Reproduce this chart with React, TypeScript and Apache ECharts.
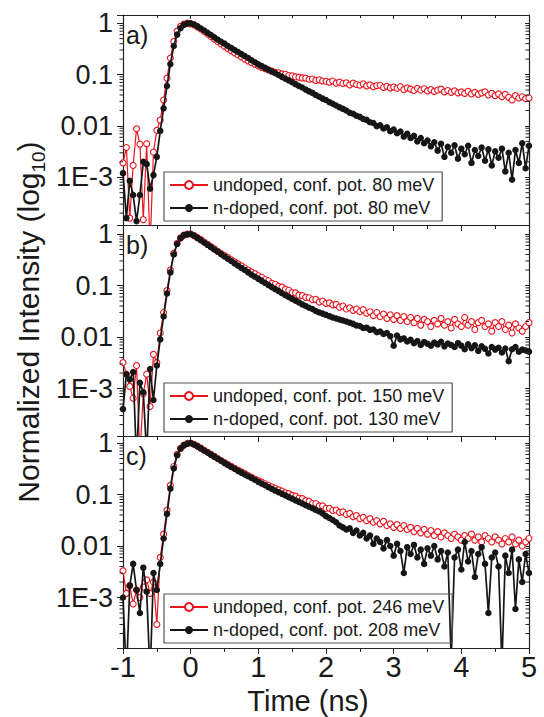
import React, { useEffect, useRef } from "react";
import * as echarts from "echarts";

// Time base (ns)
const timeNs = [
  -1, -0.95, -0.9, -0.85, -0.8, -0.75, -0.7, -0.65, -0.6, -0.55,
  -0.5, -0.45, -0.4, -0.35, -0.3, -0.25, -0.2, -0.15, -0.1, -0.05,
  0, 0.05, 0.1, 0.15, 0.2, 0.25, 0.3, 0.35, 0.4, 0.45,
  0.5, 0.55, 0.6, 0.65, 0.7, 0.75, 0.8, 0.85, 0.9, 0.95,
  1, 1.05, 1.1, 1.15, 1.2, 1.25, 1.3, 1.35, 1.4, 1.45,
  1.5, 1.55, 1.6, 1.65, 1.7, 1.75, 1.8, 1.85, 1.9, 1.95,
  2, 2.05, 2.1, 2.15, 2.2, 2.25, 2.3, 2.35, 2.4, 2.45,
  2.5, 2.55, 2.6, 2.65, 2.7, 2.75, 2.8, 2.85, 2.9, 2.95,
  3, 3.05, 3.1, 3.15, 3.2, 3.25, 3.3, 3.35, 3.4, 3.45,
  3.5, 3.55, 3.6, 3.65, 3.7, 3.75, 3.8, 3.85, 3.9, 3.95,
  4, 4.05, 4.1, 4.15, 4.2, 4.25, 4.3, 4.35, 4.4, 4.45,
  4.5, 4.55, 4.6, 4.65, 4.7, 4.75, 4.8, 4.85, 4.9, 4.95,
  5,
];

// Panel a)
const undopedA = [
  0.0019, 0.0038, 0.00016, 0.0017, 0.0088, 0.0044, 0.00015, 0.0045, 0.00004, 0.0031,
  0.0082, 0.013, 0.032, 0.085, 0.21, 0.44, 0.70, 0.87, 0.96, 1.0,
  0.97, 0.93, 0.85, 0.77, 0.69, 0.615, 0.55, 0.49, 0.44, 0.395,
  0.355, 0.32, 0.29, 0.265, 0.24, 0.22, 0.20, 0.185, 0.17, 0.158,
  0.147, 0.138, 0.130, 0.123, 0.117, 0.110, 0.108, 0.103, 0.101, 0.096,
  0.094, 0.090, 0.089, 0.086, 0.085, 0.081, 0.082, 0.077, 0.079, 0.075,
  0.074, 0.071, 0.075, 0.068, 0.071, 0.067, 0.069, 0.063, 0.068, 0.064,
  0.062, 0.066, 0.060, 0.063, 0.058, 0.061, 0.062, 0.056, 0.059, 0.055,
  0.057, 0.054, 0.058, 0.051, 0.055, 0.052, 0.049, 0.054, 0.050, 0.053,
  0.048, 0.051, 0.047, 0.050, 0.052, 0.046, 0.049, 0.045, 0.048, 0.044,
  0.046, 0.043, 0.047, 0.042, 0.045, 0.041, 0.044, 0.046, 0.040, 0.043,
  0.039, 0.042, 0.037, 0.041, 0.036, 0.032, 0.039, 0.035, 0.037, 0.034,
  0.035,
];
const ndopedA = [
  0.0012, 0.00016, 0.00085, 0.00045, 0.00014, 0.00045, 0.0020, 0.0018, 0.0006, 0.0011,
  0.0025, 0.008, 0.022, 0.06, 0.16, 0.36, 0.60, 0.80, 0.93, 0.99,
  1.0, 0.945, 0.87, 0.79, 0.72, 0.65, 0.59, 0.53, 0.48, 0.435,
  0.40, 0.36, 0.33, 0.30, 0.275, 0.25, 0.23, 0.21, 0.19, 0.174,
  0.158, 0.146, 0.135, 0.124, 0.115, 0.106, 0.098, 0.090, 0.083, 0.077,
  0.071, 0.065, 0.060, 0.056, 0.051, 0.047, 0.044, 0.040, 0.037, 0.034,
  0.032, 0.029, 0.027, 0.025, 0.023, 0.0215, 0.020, 0.018, 0.0172, 0.0158,
  0.015, 0.0136, 0.0131, 0.0118, 0.0114, 0.0099, 0.0103, 0.0089, 0.0094, 0.0079,
  0.0085, 0.0072, 0.0078, 0.0062, 0.0070, 0.0058, 0.0064, 0.0050, 0.0058, 0.0046,
  0.0052, 0.0040, 0.0048, 0.0033, 0.0045, 0.0025, 0.0039, 0.0030, 0.0042, 0.0023,
  0.0036, 0.0028, 0.0041, 0.0019, 0.0034, 0.0026, 0.0038, 0.0021, 0.0035, 0.0017,
  0.0032, 0.0024, 0.0036, 0.0013, 0.0030, 0.0009, 0.0034, 0.0019, 0.0046, 0.0015,
  0.0041,
];

// Panel b)
const undopedB = [
  0.0032, 0.0019, 0.0011, 0.00065, 0.0028, 0.00005, 0.0008, 0.0019, 0.00045, 0.0046,
  0.0032, 0.012, 0.03, 0.08, 0.20, 0.42, 0.66, 0.84, 0.95, 0.995,
  1.0, 0.933, 0.851, 0.776, 0.700, 0.631, 0.569, 0.513, 0.462, 0.417,
  0.380, 0.347, 0.316, 0.288, 0.263, 0.240, 0.219, 0.200, 0.184, 0.170,
  0.155, 0.145, 0.131, 0.124, 0.110, 0.106, 0.096, 0.093, 0.084, 0.081,
  0.073, 0.072, 0.065, 0.064, 0.059, 0.058, 0.053, 0.054, 0.048, 0.050,
  0.045, 0.046, 0.042, 0.043, 0.038, 0.040, 0.035, 0.037, 0.033, 0.035,
  0.031, 0.034, 0.029, 0.031, 0.026, 0.030, 0.025, 0.028, 0.023, 0.027,
  0.022, 0.026, 0.021, 0.025, 0.020, 0.024, 0.019, 0.023, 0.017, 0.022,
  0.020, 0.016, 0.021, 0.018, 0.023, 0.017, 0.020, 0.015, 0.022, 0.018,
  0.016, 0.024, 0.017, 0.020, 0.014, 0.019, 0.021, 0.016, 0.018, 0.013,
  0.019, 0.016, 0.020, 0.014, 0.017, 0.012, 0.018, 0.015, 0.013, 0.016,
  0.019,
];
const ndopedB = [
  0.0004, 0.0019, 0.0015, 0.0021, 0.00004, 0.0013, 0.00085, 0.00005, 0.0024, 0.0006,
  0.0028, 0.009, 0.025, 0.07, 0.18, 0.40, 0.64, 0.83, 0.95, 0.99,
  1.0, 0.933, 0.841, 0.759, 0.684, 0.617, 0.556, 0.501, 0.452, 0.407,
  0.367, 0.331, 0.299, 0.269, 0.243, 0.219, 0.200, 0.180, 0.162, 0.148,
  0.135, 0.123, 0.112, 0.102, 0.093, 0.085, 0.078, 0.071, 0.065, 0.060,
  0.055, 0.051, 0.047, 0.043, 0.040, 0.037, 0.035, 0.032, 0.030, 0.0285,
  0.027, 0.0254, 0.024, 0.0229, 0.0219, 0.0209, 0.020, 0.019, 0.018, 0.0168,
  0.0164, 0.0150, 0.0152, 0.0138, 0.0140, 0.0124, 0.0128, 0.0115, 0.0120, 0.0104,
  0.0068, 0.0107, 0.0090, 0.0094, 0.0082, 0.0088, 0.0076, 0.0084, 0.0070, 0.0080,
  0.0074, 0.0068, 0.0078, 0.0072, 0.0081, 0.0066, 0.0075, 0.0070, 0.0064, 0.0076,
  0.0068, 0.0058, 0.0072, 0.0061, 0.0069, 0.0054, 0.0066, 0.0059, 0.0048, 0.0064,
  0.0057, 0.0062, 0.0050, 0.0060, 0.0034, 0.0058, 0.0064, 0.0052, 0.0057, 0.0055,
  0.0052,
];

// Panel c)
const undopedC = [
  0.0033, 0.0012, 0.0017, 0.00075, 0.0014, 0.0010, 0.0016, 0.0022, 0.0012, 0.0020,
  0.0003, 0.006, 0.017, 0.05, 0.15, 0.35, 0.60, 0.79, 0.91, 0.98,
  1.0, 0.944, 0.871, 0.794, 0.724, 0.661, 0.603, 0.550, 0.501, 0.457,
  0.417, 0.380, 0.351, 0.324, 0.299, 0.275, 0.254, 0.234, 0.216, 0.200,
  0.186, 0.174, 0.162, 0.151, 0.141, 0.132, 0.123, 0.117, 0.108, 0.104,
  0.096, 0.093, 0.085, 0.083, 0.076, 0.074, 0.067, 0.067, 0.060, 0.060,
  0.054, 0.054, 0.049, 0.050, 0.045, 0.046, 0.041, 0.043, 0.037, 0.039,
  0.034, 0.036, 0.031, 0.034, 0.029, 0.031, 0.027, 0.030, 0.025, 0.027,
  0.023, 0.026, 0.022, 0.025, 0.021, 0.023, 0.019, 0.022, 0.018, 0.021,
  0.017, 0.020, 0.016, 0.019, 0.015, 0.018, 0.016, 0.014, 0.017, 0.015,
  0.013, 0.016, 0.014, 0.017, 0.013, 0.015, 0.012, 0.016, 0.014, 0.012,
  0.015, 0.013, 0.011, 0.014, 0.012, 0.015, 0.011, 0.013, 0.010, 0.012,
  0.014,
];
const ndopedC = [
  0.0010, 0.00003, 0.0017, 0.0045, 0.0014, 0.0005, 0.0038, 0.0013, 0.00003, 0.0030,
  0.0014, 0.0045, 0.014, 0.042, 0.13, 0.32, 0.58, 0.78, 0.90, 0.97,
  1.0, 0.933, 0.861, 0.785, 0.716, 0.653, 0.596, 0.543, 0.495, 0.452,
  0.412, 0.376, 0.343, 0.316, 0.288, 0.266, 0.245, 0.226, 0.209, 0.193,
  0.176, 0.163, 0.151, 0.139, 0.129, 0.119, 0.111, 0.103, 0.096, 0.089,
  0.083, 0.077, 0.072, 0.067, 0.062, 0.058, 0.054, 0.050, 0.047, 0.043,
  0.038, 0.035, 0.032, 0.029, 0.025, 0.023, 0.021, 0.022, 0.018, 0.020,
  0.016, 0.018, 0.014, 0.016, 0.011, 0.014, 0.012, 0.009, 0.013, 0.010,
  0.0065, 0.0110, 0.0080, 0.0030, 0.0095, 0.0070, 0.0105, 0.0060, 0.0085, 0.0045,
  0.0090, 0.0065, 0.0100, 0.0055, 0.0080, 0.0040, 0.0075, 0.00006, 0.0060, 0.0085,
  0.0035, 0.0120, 0.0050, 0.0080, 0.0025, 0.0070, 0.0095, 0.0045, 0.0005, 0.0060,
  0.0075, 0.0040, 0.00005, 0.0065, 0.0030, 0.0085, 0.0006, 0.0055, 0.0020, 0.0070,
  0.0030,
];

const seriesNames = [
  ["undoped, conf. pot. 80 meV", "n-doped, conf. pot. 80 meV"],
  ["undoped, conf. pot. 150 meV", "n-doped, conf. pot. 130 meV"],
  ["undoped, conf. pot. 246 meV", "n-doped, conf. pot. 208 meV"],
];
const panelLetters = ["a)", "b)", "c)"];
const xTickValues = [-1, 0, 1, 2, 3, 4, 5];
const yDecadeLabels: Record<string, string> = { "0": "1", "-1": "0.1", "-2": "0.01", "-3": "1E-3" };
const minorMultipliers = [2, 3, 4, 5, 6, 7, 8, 9];
const minorDecades = [1e-4, 1e-3, 1e-2, 1e-1];

const FONT = "'Liberation Sans', Arial, Helvetica, sans-serif";
const RED = "#e8161e";
const BLK = "#161616";
const AX = "#222";

const panels = [
  { red: undopedA, black: ndopedA, top: 15, height: 210, yMin: 1.175e-4, yMax: 1.445, legendTop: 172 },
  { red: undopedB, black: ndopedB, top: 225, height: 211, yMin: 1.2e-4, yMax: 1.496, legendTop: 383 },
  { red: undopedC, black: ndopedC, top: 436, height: 212, yMin: 1.047e-4, yMax: 1.368, legendTop: 594 },
];

const GRID_LEFT = 123;
const GRID_RIGHT = 15;

function yLabel(v: number): string {
  const e = Math.log10(v);
  const r = Math.round(e);
  if (Math.abs(e - r) > 1e-6) return "";
  return yDecadeLabels[String(r)] ?? "";
}

export default function App() {
  const ref = useRef<HTMLDivElement>(null);

  useEffect(() => {
    if (!ref.current) return;
    const chart = echarts.init(ref.current, undefined, { renderer: "svg" });

    const minorData: number[][] = [];
    minorDecades.forEach((d) => {
      minorMultipliers.forEach((m) => {
        minorData.push([-1, m * d]);
        minorData.push([5, m * d]);
      });
    });

    const grids = panels.map((p) => ({
      left: GRID_LEFT,
      right: GRID_RIGHT,
      top: p.top,
      height: p.height,
      show: false,
    }));

    const lineStyleAx = { color: AX, width: 1.2 };

    const xAxes: any[] = [];
    panels.forEach((p, i) => {
      xAxes.push({
        gridIndex: i,
        type: "value",
        min: -1,
        max: 5,
        interval: 1,
        position: "bottom",
        axisLine: { show: true, onZero: false, lineStyle: lineStyleAx },
        axisTick: { show: true, inside: false, length: 6, lineStyle: { color: AX, width: 1 } },
        minorTick: { show: true, splitNumber: 2, length: 4, lineStyle: { color: AX, width: 1 } },
        splitLine: { show: false },
        minorSplitLine: { show: false },
        axisLabel: {
          show: i === 2,
          fontSize: 29,
          fontFamily: FONT,
          color: "#1a1a1a",
          margin: 4,
          formatter: (v: number) => (xTickValues.includes(v) ? String(v) : ""),
        },
      });
    });
    panels.forEach((p, i) => {
      xAxes.push({
        gridIndex: i,
        type: "value",
        min: -1,
        max: 5,
        interval: 1,
        position: "top",
        axisLine: { show: true, onZero: false, lineStyle: lineStyleAx },
        axisTick: { show: true, inside: true, length: 4, lineStyle: { color: AX, width: 1 } },
        minorTick: { show: true, splitNumber: 2, length: 3, lineStyle: { color: AX, width: 1 } },
        splitLine: { show: false },
        axisLabel: { show: false },
      });
    });

    const yAxes: any[] = [];
    panels.forEach((p, i) => {
      yAxes.push({
        gridIndex: i,
        type: "log",
        logBase: 10,
        min: p.yMin,
        max: p.yMax,
        position: "left",
        axisLine: { show: true, onZero: false, lineStyle: lineStyleAx },
        axisTick: { show: true, inside: false, length: 6, lineStyle: { color: AX, width: 1 } },
        splitLine: { show: false },
        axisLabel: {
          fontSize: 27,
          fontFamily: FONT,
          color: "#1a1a1a",
          margin: 10,
          formatter: yLabel,
          showMinLabel: true,
          showMaxLabel: true,
        },
      });
    });
    panels.forEach((p, i) => {
      yAxes.push({
        gridIndex: i,
        type: "log",
        logBase: 10,
        min: p.yMin,
        max: p.yMax,
        position: "right",
        axisLine: { show: true, onZero: false, lineStyle: lineStyleAx },
        axisTick: { show: true, inside: true, length: 4, lineStyle: { color: AX, width: 1 } },
        splitLine: { show: false },
        axisLabel: { show: false },
      });
    });

    const series: any[] = [];
    panels.forEach((p, i) => {
      series.push({
        type: "line",
        name: seriesNames[i][0],
        xAxisIndex: i,
        yAxisIndex: i,
        data: timeNs.map((t, k) => [t, p.red[k]]),
        symbol: "circle",
        symbolSize: 6,
        showSymbol: true,
        clip: true,
        lineStyle: { color: RED, width: 1.2 },
        itemStyle: { color: "#ffffff", borderColor: RED, borderWidth: 1.1 },
        z: 2,
      });
      series.push({
        type: "line",
        name: seriesNames[i][1],
        xAxisIndex: i,
        yAxisIndex: i,
        data: timeNs.map((t, k) => [t, p.black[k]]),
        symbol: "circle",
        symbolSize: 6.5,
        showSymbol: true,
        clip: true,
        lineStyle: { color: BLK, width: 1.7 },
        itemStyle: { color: BLK },
        z: 3,
      });
      series.push({
        type: "custom",
        xAxisIndex: i,
        yAxisIndex: i,
        silent: true,
        clip: false,
        data: minorData,
        z: 4,
        renderItem: (params: any, api: any) => {
          const pt = api.coord([api.value(0), api.value(1)]);
          return {
            type: "line",
            shape: { x1: pt[0] - 3.5, y1: pt[1], x2: pt[0], y2: pt[1] },
            style: { stroke: AX, lineWidth: 1 },
          };
        },
      });
    });

    const legends = panels.map((p, i) => ({
      data: seriesNames[i],
      orient: "vertical",
      left: 164,
      top: p.legendTop,
      itemGap: 5,
      itemWidth: 38,
      itemHeight: 10,
      padding: [4, 8, 4, 5],
      borderColor: "#555",
      borderWidth: 1.2,
      selectedMode: false,
      textStyle: { fontSize: 18, fontFamily: FONT, color: "#1a1a1a" },
    }));

    const graphic: any[] = panels.map((p, i) => ({
      type: "text",
      x: 126,
      y: p.top + 20,
      z: 10,
      style: {
        text: panelLetters[i],
        fontSize: 25,
        fontFamily: FONT,
        fill: "#1a1a1a",
        align: "left",
        verticalAlign: "middle",
      },
    }));
    graphic.push({
      type: "text",
      x: 308,
      y: 701,
      style: {
        text: "Time (ns)",
        fontSize: 29,
        fontFamily: FONT,
        fill: "#1a1a1a",
        align: "center",
        verticalAlign: "middle",
      },
    });
    graphic.push({
      type: "text",
      x: 28,
      y: 322,
      rotation: Math.PI / 2,
      style: {
        text: "{m|Normalized Intensity (log}{s|10}{m|)}",
        align: "center",
        verticalAlign: "middle",
        rich: {
          m: { fontSize: 30, fontFamily: FONT, fill: "#1a1a1a", lineHeight: 40 },
          s: { fontSize: 19, fontFamily: FONT, fill: "#1a1a1a", lineHeight: 40, verticalAlign: "bottom" },
        },
      },
    });

    chart.setOption({
      animation: false,
      backgroundColor: "#ffffff",
      grid: grids,
      xAxis: xAxes,
      yAxis: yAxes,
      legend: legends,
      series,
      graphic,
    });

    return () => {
      chart.dispose();
    };
  }, []);

  return (
    <div
      ref={ref}
      style={{ position: "fixed", left: 0, top: 0, width: 544, height: 717, background: "#fff" }}
    />
  );
}
